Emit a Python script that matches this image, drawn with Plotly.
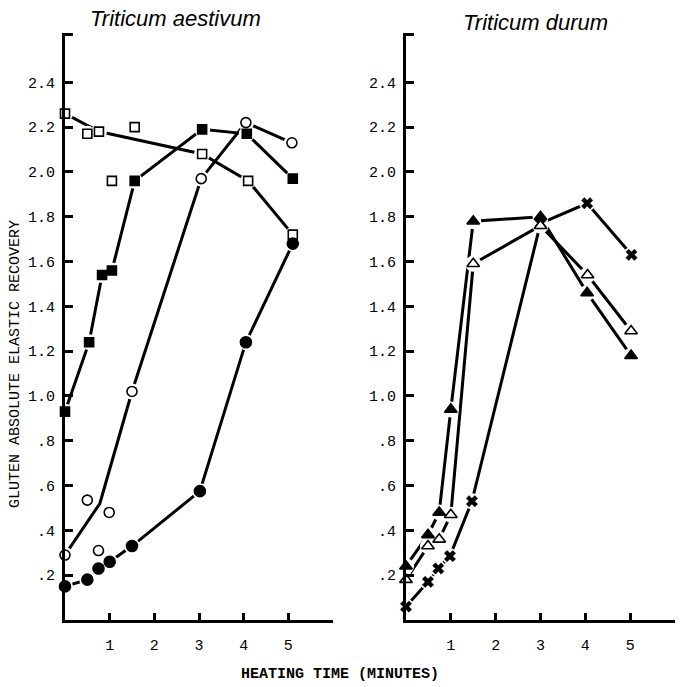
import plotly.graph_objects as go

# ---------------- data ----------------
# Triticum aestivum (left panel)
open_sq_x = [0, 0.5, 0.76, 1.05, 1.56, 3.07, 4.1, 5.1]
open_sq_y = [2.26, 2.17, 2.18, 1.96, 2.20, 2.08, 1.96, 1.72]
open_sq_line_x = [0, 0.76, 3.07, 4.1, 5.1]
open_sq_line_y = [2.26, 2.18, 2.08, 1.96, 1.72]

filled_sq_x = [0, 0.54, 0.83, 1.05, 1.56, 3.07, 4.07, 5.1]
filled_sq_y = [0.93, 1.24, 1.54, 1.56, 1.96, 2.19, 2.17, 1.97]

open_circ_x = [0, 0.5, 0.75, 0.99, 1.5, 3.05, 4.05, 5.08]
open_circ_y = [0.29, 0.535, 0.31, 0.48, 1.02, 1.97, 2.22, 2.13]
open_circ_line_x = [0, 0.78, 1.5, 3.05, 4.05, 5.08]
open_circ_line_y = [0.29, 0.52, 1.02, 1.97, 2.22, 2.13]

filled_circ_x = [0, 0.5, 0.75, 1.0, 1.5, 3.02, 4.05, 5.1]
filled_circ_y = [0.15, 0.18, 0.23, 0.26, 0.33, 0.575, 1.24, 1.68]

# Triticum durum (right panel)
filled_tri_x = [0, 0.49, 0.74, 1.0, 1.5, 3.0, 4.04, 5.02]
filled_tri_y = [0.24, 0.38, 0.48, 0.94, 1.78, 1.80, 1.46, 1.18]

open_tri_x = [0, 0.49, 0.74, 1.0, 1.5, 3.0, 4.05, 5.02]
open_tri_y = [0.18, 0.33, 0.36, 0.47, 1.59, 1.76, 1.54, 1.29]

cross_x = [0, 0.49, 0.72, 0.98, 1.47, 3.0, 4.04, 5.03]
cross_y = [0.06, 0.17, 0.23, 0.285, 0.53, 1.77, 1.86, 1.63]

y_tick_vals = [0.2, 0.4, 0.6, 0.8, 1.0, 1.2, 1.4, 1.6, 1.8, 2.0, 2.2, 2.4, 2.615]
y_tick_text = [".2", ".4", ".6", ".8", "1.0", "1.2", "1.4", "1.6", "1.8", "2.0", "2.2", "2.4", ""]
x_tick_vals = [1, 2, 3, 4, 5, 6]
x_tick_text = ["1", "2", "3", "4", "5", ""]

titles = ["Triticum aestivum", "Triticum durum"]
y_title = "GLUTEN ABSOLUTE ELASTIC RECOVERY"
x_title = "HEATING TIME (MINUTES)"

# ---------------- figure ----------------
LINE_W = 3
HALO = 16

fig = go.Figure()


def line(x, y, ax):
    fig.add_trace(go.Scatter(x=x, y=y, mode="lines", xaxis=ax[0], yaxis=ax[1],
                             line=dict(color="black", width=LINE_W),
                             cliponaxis=False, showlegend=False, hoverinfo="skip"))


def halo(x, y, ax, size=HALO):
    fig.add_trace(go.Scatter(x=x, y=y, mode="markers", xaxis=ax[0], yaxis=ax[1],
                             marker=dict(color="white", size=size, line=dict(width=0)),
                             cliponaxis=False, showlegend=False, hoverinfo="skip"))


def marks(x, y, ax, symbol, fill, size=9, lw=1.6):
    fig.add_trace(go.Scatter(x=x, y=y, mode="markers", xaxis=ax[0], yaxis=ax[1],
                             marker=dict(symbol=symbol, color=fill, size=size,
                                         line=dict(color="black", width=lw)),
                             cliponaxis=False, showlegend=False))


L = ("x", "y")
R = ("x2", "y2")

# lines
line(open_sq_line_x, open_sq_line_y, L)
line(filled_sq_x, filled_sq_y, L)
line(open_circ_line_x, open_circ_line_y, L)
line(filled_circ_x, filled_circ_y, L)
line(cross_x, cross_y, R)
line(open_tri_x, open_tri_y, R)
line(filled_tri_x, filled_tri_y, R)

# white halos (gaps around symbols)
for xs, ys in [(open_sq_x, open_sq_y), (filled_sq_x, filled_sq_y),
               (open_circ_x, open_circ_y), (filled_circ_x, filled_circ_y)]:
    halo(xs, ys, L)
for xs, ys in [(cross_x, cross_y), (open_tri_x, open_tri_y), (filled_tri_x, filled_tri_y)]:
    halo(xs, ys, R)

# symbols
marks(open_sq_x, open_sq_y, L, "square", "white", size=9)
marks(filled_sq_x, filled_sq_y, L, "square", "black", size=9)
marks(open_circ_x, open_circ_y, L, "circle", "white", size=10)
marks(filled_circ_x, filled_circ_y, L, "circle", "black", size=11)
marks(cross_x, cross_y, R, "x", "black", size=10, lw=0.5)
marks(open_tri_x, open_tri_y, R, "triangle-up", "white", size=11)
marks(filled_tri_x, filled_tri_y, R, "triangle-up", "black", size=11)

W, H = 685, 687
xl = (65 / W, 333 / W)
xr = (406 / W, 675 / W)
yd = ((H - 620) / H, (H - 33) / H)

tick_font = dict(family="Liberation Mono", size=15, color="black")

common_x = dict(range=[0, 6], tickvals=x_tick_vals, ticktext=x_tick_text,
                ticks="inside", ticklen=7, tickwidth=2.5, tickcolor="black",
                showline=True, linecolor="black", linewidth=3,
                showgrid=False, zeroline=False, tickfont=tick_font,
                ticklabelstandoff=9, fixedrange=True)
common_y = dict(range=[0, 2.62], tickvals=y_tick_vals, ticktext=y_tick_text,
                ticks="inside", ticklen=8, tickwidth=2.5, tickcolor="black",
                showline=True, linecolor="black", linewidth=3,
                showgrid=False, zeroline=False, tickfont=tick_font,
                ticklabelstandoff=4, fixedrange=True, domain=list(yd))

fig.update_layout(
    width=W, height=H,
    margin=dict(l=0, r=0, t=0, b=0),
    paper_bgcolor="white", plot_bgcolor="white",
    xaxis=dict(domain=list(xl), anchor="y", **common_x),
    yaxis=dict(anchor="x", **common_y),
    xaxis2=dict(domain=list(xr), anchor="y2", **common_x),
    yaxis2=dict(anchor="x2", **common_y),
    annotations=[
        dict(text=titles[0], x=175 / W, y=1 - 19 / H, xref="paper", yref="paper",
             showarrow=False, xanchor="center", yanchor="middle",
             font=dict(family="Liberation Sans", size=22, style="italic", color="black")),
        dict(text=titles[1], x=535 / W, y=1 - 22 / H, xref="paper", yref="paper",
             showarrow=False, xanchor="center", yanchor="middle",
             font=dict(family="Liberation Sans", size=22, style="italic", color="black")),
        dict(text=y_title, x=15 / W, y=1 - 364 / H, xref="paper", yref="paper",
             showarrow=False, xanchor="center", yanchor="middle", textangle=-90,
             font=dict(family="Liberation Mono", size=15, color="black")),
        dict(text=x_title, x=340 / W, y=1 - 674 / H, xref="paper", yref="paper",
             showarrow=False, xanchor="center", yanchor="middle",
             font=dict(family="Liberation Mono", size=15, color="black", weight="bold")),
    ],
)

fig.write_html("out.html")
